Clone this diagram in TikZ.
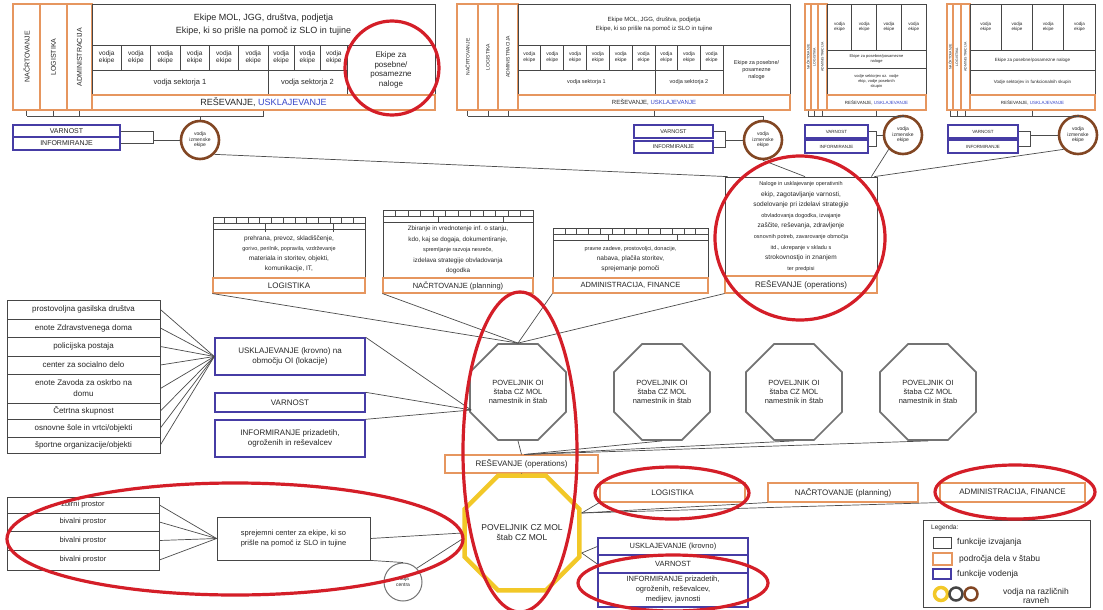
\documentclass[tikz,border=0pt]{standalone}
\usepackage{fontspec}
\setmainfont{Liberation Sans}
\usetikzlibrary{shapes.geometric,calc}
\definecolor{orng}{RGB}{230,150,95}
\definecolor{blu}{RGB}{70,60,165}
\definecolor{gry}{RGB}{70,70,70}
\definecolor{ogry}{RGB}{115,115,115}
\definecolor{brn}{RGB}{130,70,35}
\definecolor{redc}{RGB}{212,30,40}
\definecolor{yel}{RGB}{242,200,40}
\definecolor{bluetxt}{RGB}{55,70,200}
\newcommand\fsz[2]{\fontsize{#1}{#2}\selectfont}
\newcommand\rbox[7]{%
  \pgfmathsetmacro\myrw{(#5)-(#3)}\pgfmathsetmacro\myrh{(#6)-(#4)}%
  \node[#2, minimum width=\myrw pt, minimum height=\myrh pt] (#1) at ({((#3)+(#5))/2},{((#4)+(#6))/2}) {#7};}
\newcommand\cbox[7]{%
  \pgfmathsetmacro\myrw{(#5)-(#3)}\pgfmathsetmacro\myrh{(#6)-(#4)}%
  \node[#2, rotate=90, minimum width=\myrh pt, minimum height=\myrw pt] (#1) at ({((#3)+(#5))/2},{((#4)+(#6))/2}) {#7};}
\tikzset{
  gbox/.style={draw=gry, line width=0.8pt, inner sep=0pt, align=center, text=black!85},
  obox/.style={draw=orng, line width=1.1pt, inner sep=0pt, align=center, text=black!85},
  bbox/.style={draw=blu, line width=1.4pt, inner sep=0pt, align=center, text=black!85},
  conn/.style={draw=black!70, line width=0.7pt},
  ring/.style={circle, draw=brn, line width=2.6pt, inner sep=0pt, minimum size=38pt, align=center, font=\fsz{5}{5.5}, text=black!85},
  octa/.style={regular polygon, regular polygon sides=8, draw=ogry, line width=1.7pt, inner sep=0pt, align=center, minimum size=104pt, font=\fsz{7.5}{9}, text=black!85},
  redel/.style={draw=redc, line width=3.2pt},
  ltxt/.style={anchor=west, inner sep=0pt, text=black!85},
}
\begin{document}
\begin{tikzpicture}[x=1pt,y=-1pt]
\fill[white] (0,0) rectangle (1103,610);
\useasboundingbox (0,0) rectangle (1103,610);

% ================= Block A
\cbox{aN}{obox,font=\fsz{7}{8}}{13}{4}{40}{110}{NAČRTOVANJE}
\cbox{aL}{obox,font=\fsz{7}{8}}{40}{4}{67}{110}{LOGISTIKA}
\cbox{aA}{obox,font=\fsz{7}{8}}{67}{4}{92}{110}{ADMINISTRACIJA}
\rbox{aT}{gbox,font=\fsz{9}{13}}{92}{4}{435}{45}{Ekipe MOL, JGG, društva, podjetja\\Ekipe, ki so prišle na pomoč iz SLO in tujine}
\foreach \i in {0,...,5}{\rbox{aC\i}{gbox,font=\fsz{6.5}{7.5}}{92+\i*29.333}{45}{121.333+\i*29.333}{70}{vodja\\ekipe}}
\foreach \i in {0,1,2}{\rbox{aD\i}{gbox,font=\fsz{6.5}{7.5}}{268+\i*26.333}{45}{294.333+\i*26.333}{70}{vodja\\ekipe}}
\rbox{aS1}{gbox,font=\fsz{7.5}{9}}{92}{70}{268}{95}{vodja sektorja 1}
\rbox{aS2}{gbox,font=\fsz{7.5}{9}}{268}{70}{347}{95}{vodja sektorja 2}
\rbox{aE}{gbox,font=\fsz{8}{9.5}}{347}{45}{435}{95}{Ekipe za\\posebne/\\posamezne\\naloge}
\rbox{aR}{obox,font=\fsz{9}{10}}{92}{95}{435}{110}{REŠEVANJE, \textcolor{bluetxt}{USKLAJEVANJE}}
\node[ring] (rgA) at (200,140) {vodja\\izmenske\\ekipe};
\coordinate (aB1) at (27,116); \coordinate (aB2) at (263.5,116);
\draw[conn] (aB1) -- (aB2);
\foreach \nm in {aN,aL,aA}{\draw[conn] (\nm.west) -- (\nm.west |- aB1);}
\draw[conn] (aR.south) -- (aB2);
\draw[conn] (rgA.north) -- (rgA.north |- aB1);
\rbox{aV}{bbox,font=\fsz{7}{8}}{13}{125}{120}{137}{VARNOST}
\rbox{aI}{bbox,font=\fsz{7}{8}}{13}{137}{120}{150}{INFORMIRANJE}
\coordinate (aJ) at (153,140);
\draw[conn] (aV.east) -| (aJ |- aI.east) -- (aI.east);
\draw[conn] (aJ) -- (rgA.west);

% ================= Block B
\cbox{bN}{obox,font=\fsz{5}{6}}{457}{4}{478}{110}{NAČRTOVANJE}
\cbox{bL}{obox,font=\fsz{5}{6}}{478}{4}{498}{110}{LOGISTIKA}
\cbox{bA}{obox,font=\fsz{5}{6}}{498}{4}{518}{110}{ADMINISTRACIJA}
\rbox{bT}{gbox,font=\fsz{6}{9}}{518}{4}{790}{45}{Ekipe MOL, JGG, društva, podjetja\\Ekipe, ki so prišle na pomoč iz SLO in tujine}
\foreach \i in {0,...,5}{\rbox{bC\i}{gbox,font=\fsz{5}{6}}{518+\i*22.833}{45}{540.833+\i*22.833}{70}{vodja\\ekipe}}
\foreach \i in {0,1,2}{\rbox{bD\i}{gbox,font=\fsz{5}{6}}{655+\i*22.667}{45}{677.667+\i*22.667}{70}{vodja\\ekipe}}
\rbox{bS1}{gbox,font=\fsz{5.5}{7}}{518}{70}{655}{95}{vodja sektorja 1}
\rbox{bS2}{gbox,font=\fsz{5.5}{7}}{655}{70}{723}{95}{vodja sektorja 2}
\rbox{bE}{gbox,font=\fsz{5.5}{7}}{723}{45}{790}{95}{Ekipe za posebne/\\posamezne\\naloge}
\rbox{bR}{obox,font=\fsz{6}{7}}{518}{95}{790}{110}{REŠEVANJE, \textcolor{bluetxt}{USKLAJEVANJE}}
\node[ring] (rgB) at (763,140) {vodja\\izmenske\\ekipe};
\coordinate (bB1) at (467.5,116); \coordinate (bB2) at (763,116);
\draw[conn] (bB1) -- (bB2) -- (rgB.north);
\foreach \nm in {bN,bL,bA}{\draw[conn] (\nm.west) -- (\nm.west |- bB1);}
\draw[conn] (bR.south) -- (bR.south |- bB1);
\rbox{bV}{bbox,font=\fsz{5.5}{6.5}}{634}{125}{713}{138}{VARNOST}
\rbox{bI}{bbox,font=\fsz{5.5}{6.5}}{634}{141}{713}{153}{INFORMIRANJE}
\coordinate (bJ) at (725,140);
\draw[conn] (bV.east) -| (bJ |- bI.east) -- (bI.east);
\draw[conn] (bJ) -- (rgB.west);

% ================= Block C
\cbox{cN}{obox,font=\fsz{3.5}{4}}{805}{4}{811}{110}{NAČRTOVANJE}
\cbox{cL}{obox,font=\fsz{3.5}{4}}{811}{4}{818}{110}{LOGISTIKA}
\cbox{cAd}{obox,font=\fsz{3.5}{4}}{818}{4}{827}{110}{ADMINISTRACIJA}
\foreach \i in {0,...,3}{\rbox{cC\i}{gbox,font=\fsz{4.5}{5.5}}{827+\i*24.75}{4}{851.75+\i*24.75}{50}{vodja\\ekipe}}
\rbox{cE}{gbox,font=\fsz{4}{5}}{827}{50}{926}{68}{Ekipe za posebne/posamezne\\naloge}
\rbox{cS}{gbox,font=\fsz{4}{5}}{827}{68}{926}{95}{vodje sektorjev oz. vodje\\ekip, vodje posebnih\\skupin}
\rbox{cR}{obox,font=\fsz{4.5}{5.5}}{827}{95}{926}{110}{REŠEVANJE, \textcolor{bluetxt}{USKLAJEVANJE}}
\node[ring] (rgC) at (903,135) {vodja\\izmenske\\ekipe};
\coordinate (cB1) at (808,116); \coordinate (cB2) at (903,116);
\draw[conn] (cB1) -- (cB2) -- (rgC.north);
\foreach \nm in {cN,cL,cAd}{\draw[conn] (\nm.west) -- (\nm.west |- cB1);}
\draw[conn] (cR.south) -- (cR.south |- cB1);
\rbox{cV}{bbox,font=\fsz{4.5}{5.5}}{805}{125}{868}{138}{VARNOST}
\rbox{cI}{bbox,font=\fsz{4.5}{5.5}}{805}{140}{868}{153}{INFORMIRANJE}
\coordinate (cJ) at (876,135);
\draw[conn] (cV.east) -| (cJ |- cI.east) -- (cI.east);
\draw[conn] (cJ) -- (rgC.west);

% ================= Block D
\cbox{dN}{obox,font=\fsz{3.5}{4}}{947}{4}{953}{110}{NAČRTOVANJE}
\cbox{dL}{obox,font=\fsz{3.5}{4}}{953}{4}{961}{110}{LOGISTIKA}
\cbox{dAd}{obox,font=\fsz{3.5}{4}}{961}{4}{970}{110}{ADMINISTRACIJA}
\foreach \i in {0,...,3}{\rbox{dC\i}{gbox,font=\fsz{4.5}{5.5}}{970+\i*31.25}{4}{1001.25+\i*31.25}{50}{vodja\\ekipe}}
\rbox{dE}{gbox,font=\fsz{4.5}{5.5}}{970}{50}{1095}{70}{Ekipe za posebne/posamezne naloge}
\rbox{dS}{gbox,font=\fsz{4.5}{5.5}}{970}{70}{1095}{95}{Vodje sektorjev in funkcionalnih skupin}
\rbox{dR}{obox,font=\fsz{4.5}{5.5}}{970}{95}{1095}{110}{REŠEVANJE, \textcolor{bluetxt}{USKLAJEVANJE}}
\node[ring] (rgD) at (1078,135) {vodja\\izmenske\\ekipe};
\coordinate (dB1) at (950,116); \coordinate (dB2) at (1078,116);
\draw[conn] (dB1) -- (dB2) -- (rgD.north);
\foreach \nm in {dN,dL,dAd}{\draw[conn] (\nm.west) -- (\nm.west |- dB1);}
\draw[conn] (dR.south) -- (dR.south |- dB1);
\rbox{dV}{bbox,font=\fsz{4.5}{5.5}}{948}{125}{1018}{138}{VARNOST}
\rbox{dI}{bbox,font=\fsz{4.5}{5.5}}{948}{140}{1018}{153}{INFORMIRANJE}
\coordinate (dJ) at (1030,135);
\draw[conn] (dV.east) -| (dJ |- dI.east) -- (dI.east);
\draw[conn] (dJ) -- (rgD.west);

% ================= Middle function boxes
\rbox{logR}{gbox}{213}{217}{365}{229}{}
\draw[conn] (logR.west) -- (logR.east);
\foreach \k in {1,...,12}{\draw[conn] (213+\k*11.7,217) -- (213+\k*11.7,223);}
\foreach \k in {265,333}{\draw[conn] (\k,223) -- (\k,232);}
\rbox{logT}{gbox,font=\fsz{6.5}{10}}{213}{229}{365}{278}{prehrana, prevoz, skladiščenje,\\{\fsz{5.5}{10}gorivo, perilnik, popravila, vzdrževanje}\\materiala in storitev, objekti,\\komunikacije, IT,}
\rbox{logS}{obox,font=\fsz{8}{9}}{213}{278}{365}{293}{LOGISTIKA}

\rbox{nacR}{gbox}{383}{210}{533}{222}{}
\draw[conn] (nacR.west) -- (nacR.east);
\foreach \k in {1,...,11}{\draw[conn] (383+\k*12.5,210) -- (383+\k*12.5,216);}
\foreach \k in {438,503}{\draw[conn] (\k,216) -- (\k,222);}
\rbox{nacT}{gbox,font=\fsz{6.3}{10.5}}{383}{222}{533}{278}{Zbiranje in vrednotenje inf. o stanju,\\kdo, kaj se dogaja, dokumentiranje,\\{\fsz{5.5}{10.5}spremljanje razvoja nesreče,}\\izdelava strategije obvladovanja\\dogodka}
\rbox{nacS}{obox,font=\fsz{7.5}{9}}{383}{278}{533}{293}{NAČRTOVANJE (planning)}

\rbox{admR}{gbox}{553}{228}{708}{240}{}
\draw[conn] (admR.west) -- (admR.east);
\foreach \k in {1,...,12}{\draw[conn] (553+\k*11.9,228) -- (553+\k*11.9,234);}
\foreach \k in {608,677}{\draw[conn] (\k,234) -- (\k,240);}
\rbox{admT}{gbox,font=\fsz{6.5}{10}}{553}{240}{708}{278}{{\fsz{5.5}{10}pravne zadeve, prostovoljci, donacije,}\\nabava, plačila storitev,\\sprejemanje pomoči}
\rbox{admS}{obox,font=\fsz{7.5}{9}}{553}{278}{708}{293}{ADMINISTRACIJA, FINANCE}

\rbox{opsT}{gbox,font=\fsz{6.5}{10.6}}{725}{177}{877}{276}{{\fsz{5.5}{10.6}Naloge in usklajevanje operativnih}\\ekip, zagotavljanje varnosti,\\sodelovanje pri izdelavi strategije\\{\fsz{5.5}{10.6}obvladovanja dogodka, izvajanje}\\zaščite, reševanja, zdravljenje\\{\fsz{5.5}{10.6}osnovnih potreb, zavarovanje območja}\\{\fsz{5.5}{10.6}itd., ukrepanje v skladu s}\\strokovnostjo in znanjem\\{\fsz{5.5}{10.6}ter predpisi}}
\rbox{opsS}{obox,font=\fsz{8}{9}}{725}{276}{877}{293}{REŠEVANJE (operations)}

% circles to operations box
\draw[conn] (rgA.south east) -- ($(opsT.north west)+(3,0)$);
\draw[conn] (rgB.south) -- ($(opsT.north)+(4,0)$);
\draw[conn] (rgC.south west) -- ($(opsT.north east)+(-6,0)$);
\draw[conn] (rgD.south west) -- ($(opsT.north east)+(-3,0)$);

% ================= Octagons
\node[octa] (o1) at (518,392) {POVELJNIK OI\\štaba CZ MOL\\namestnik in štab};
\node[octa] (o2) at (662,392) {POVELJNIK OI\\štaba CZ MOL\\namestnik in štab};
\node[octa] (o3) at (794,392) {POVELJNIK OI\\štaba CZ MOL\\namestnik in štab};
\node[octa] (o4) at (928,392) {POVELJNIK OI\\štaba CZ MOL\\namestnik in štab};
\draw[conn] (logS.south west) -- (o1.north);
\draw[conn] (nacS.south west) -- (o1.north);
\draw[conn] (admS.south west) -- (o1.north);
\draw[conn] (opsS.south west) -- (o1.north);

% ================= Left list
\rbox{L1}{gbox,font=\fsz{8}{9}}{7}{300}{160}{319}{prostovoljna gasilska društva}
\rbox{L2}{gbox,font=\fsz{8}{9}}{7}{319}{160}{337}{enote Zdravstvenega doma}
\rbox{L3}{gbox,font=\fsz{8}{9}}{7}{337}{160}{356}{policijska postaja}
\rbox{L4}{gbox,font=\fsz{8}{9}}{7}{356}{160}{374}{center za socialno delo}
\rbox{L5}{gbox,font=\fsz{8}{11}}{7}{374}{160}{403}{enote Zavoda za oskrbo na\\domu}
\rbox{L6}{gbox,font=\fsz{8}{9}}{7}{403}{160}{419}{Četrtna skupnost}
\rbox{L7}{gbox,font=\fsz{8}{9}}{7}{419}{160}{437}{osnovne šole in vrtci/objekti}
\rbox{L8}{gbox,font=\fsz{8}{9}}{7}{437}{160}{453}{športne organizacije/objekti}
\rbox{usk}{bbox,font=\fsz{8}{10}}{215}{338}{365}{375}{USKLAJEVANJE (krovno) na\\območju OI (lokacije)}
\rbox{var}{bbox,font=\fsz{8}{9}}{215}{393}{365}{412}{VARNOST}
\rbox{inf}{bbox,font=\fsz{8}{10}}{215}{420}{365}{457}{INFORMIRANJE prizadetih,\\ogroženih in reševalcev}
\foreach \k in {1,...,8}{\draw[conn] (L\k.east) -- (usk.west);}
\coordinate (o1L) at ($(o1.west)+(2,18)$);
\draw[conn] (usk.north east) -- (o1L);
\draw[conn] (var.north east) -- (o1L);
\draw[conn] (inf.north east) -- (o1L);

% ================= Lower centre
\rbox{res2}{obox,font=\fsz{8}{9}}{445}{455}{598}{473}{REŠEVANJE (operations)}
\draw[conn] (o1.south) -- (res2.north);
\foreach \o in {o2,o3,o4}{\draw[conn] (\o.south) -- ($(res2.north)+(3,0)$);}
\node[octa, draw=yel, line width=4.5pt, minimum size=122pt, font=\fsz{8.5}{10}] (yo) at (522,533) {POVELJNIK CZ MOL\\štab CZ MOL};
\draw[conn] (res2.south) -- (yo.north);

\rbox{log2}{obox,font=\fsz{8}{9}}{600}{483}{745}{502}{LOGISTIKA}
\rbox{nac2}{obox,font=\fsz{8}{9}}{768}{483}{918}{502}{NAČRTOVANJE (planning)}
\rbox{adm2}{obox,font=\fsz{8}{9}}{940}{483}{1085}{502}{ADMINISTRACIJA, FINANCE}
\coordinate (yoE) at ($(yo.east)+(0,-20)$);
\draw[conn] (log2.south west) -- (yoE);
\draw[conn] (nac2.south west) -- (yoE);
\draw[conn] (adm2.south west) -- (yoE);

\rbox{bu1}{bbox,font=\fsz{7.5}{9}}{598}{538}{748}{555}{USKLAJEVANJE (krovno)}
\rbox{bu2}{bbox,font=\fsz{7.5}{9}}{598}{555}{748}{573}{VARNOST}
\rbox{bu3}{bbox,font=\fsz{7.5}{10}}{598}{573}{748}{607}{INFORMIRANJE prizadetih,\\ogroženih, reševalcev,\\medijev, javnosti}
\coordinate (yoR) at ($(yo.east)+(0,20)$);
\draw[conn] (bu1.west) -- (yoR);
\draw[conn] (bu2.west) -- (yoR);

% ================= Bottom left
\rbox{P1}{gbox,font=\fsz{7.5}{9}}{7}{497}{159}{513}{zbirni prostor}
\rbox{P2}{gbox,font=\fsz{7.5}{9}}{7}{513}{159}{531}{bivalni prostor}
\rbox{P3}{gbox,font=\fsz{7.5}{9}}{7}{531}{159}{550}{bivalni prostor}
\rbox{P4}{gbox,font=\fsz{7.5}{9}}{7}{550}{159}{570}{bivalni prostor}
\rbox{sc}{gbox,font=\fsz{7.5}{10}}{217}{517}{370}{560}{sprejemni center za ekipe, ki so\\prišle na pomoč iz SLO in tujine}
\foreach \k in {1,...,4}{\draw[conn] (P\k.east) -- (sc.west);}
\draw[conn] (sc.east) -- (yo.west);
\node[circle, draw=ogry, line width=1pt, minimum size=38pt, inner sep=0pt, align=center, font=\fsz{5}{6}, text=black!85] (sm) at (403,582) {vodja\\centra};
\draw[conn] (sc.south east) -- (sm.north);
\draw[conn] (sm.north east) -- ($(yo.west)+(0,6)$);

% ================= Legend
\rbox{leg}{draw=gry, line width=1pt, inner sep=0pt}{923}{520}{1090}{607}{}
\node[ltxt, font=\fsz{6.5}{7}] (legT) at (931,528) {Legenda:};
\rbox{lg1}{gbox}{933}{537}{951}{548}{}
\node[ltxt, font=\fsz{8.5}{9}] (lt1) at (957,542) {funkcije izvajanja};
\rbox{lg2}{obox, line width=1.8pt}{933}{553}{952}{565}{}
\node[ltxt, font=\fsz{8.5}{9}] (lt2) at (959,559) {področja dela v štabu};
\rbox{lg3}{bbox}{933}{569}{951}{579}{}
\node[ltxt, font=\fsz{8.5}{9}] (lt3) at (957,574) {funkcije vodenja};
\node[circle, draw=yel, line width=3.5pt, minimum size=13pt, inner sep=0pt] (lc1) at (941,594) {};
\node[circle, draw=gry, line width=2.5pt, minimum size=13pt, inner sep=0pt] (lc2) at (956,594) {};
\node[circle, draw=brn, line width=2.5pt, minimum size=13pt, inner sep=0pt] (lc3) at (971,594) {};
\node[font=\fsz{8.5}{9.5}, align=center, text=black!85, inner sep=0pt] (lt4) at (1036,596) {vodja na različnih\\ravneh};

% ================= Red annotation ellipses
\draw[redel] (392,68) ellipse [x radius=47pt, y radius=47pt];
\draw[redel] (800,238) ellipse [x radius=85pt, y radius=82pt];
\draw[redel] (520,452) ellipse [x radius=57pt, y radius=160pt];
\draw[redel] (672,493) ellipse [x radius=77pt, y radius=26pt];
\draw[redel] (1015,492) ellipse [x radius=80pt, y radius=27pt];
\draw[redel] (235,539) ellipse [x radius=228pt, y radius=56pt];
\draw[redel] (673,583) ellipse [x radius=95pt, y radius=28pt];
\end{tikzpicture}
\end{document}
